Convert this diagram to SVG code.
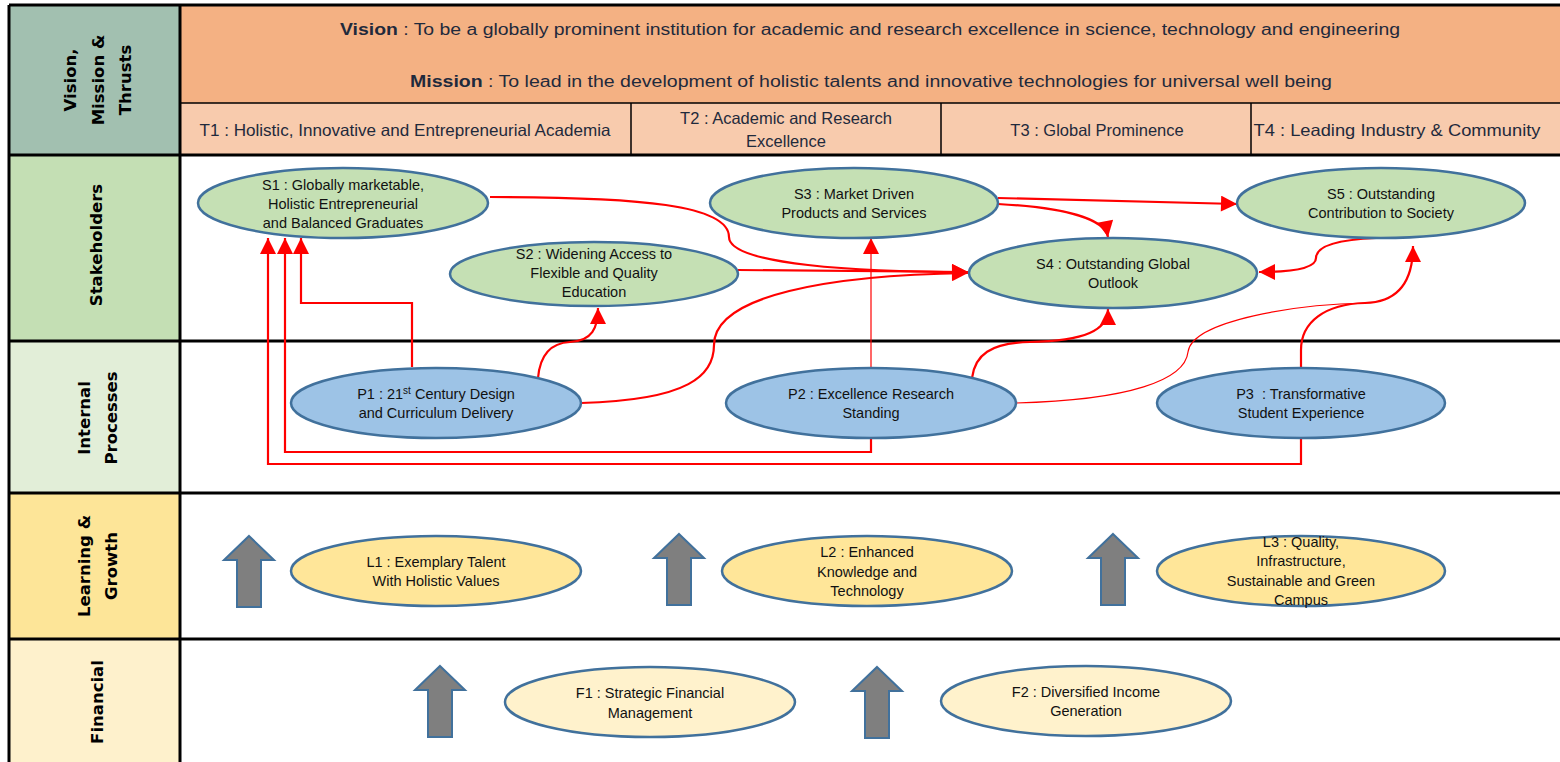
<svg xmlns="http://www.w3.org/2000/svg" width="1560" height="762" viewBox="0 0 1560 762">
<style>
.lbl{font-family:"DejaVu Sans",Verdana,sans-serif;font-weight:bold;font-size:16.5px;fill:#000;text-anchor:middle}
.hd{font-family:"Liberation Sans",Arial,sans-serif;font-size:16px;fill:#1f2a3c;text-anchor:middle}
.th{font-family:"Liberation Sans",Arial,sans-serif;font-size:16.5px;fill:#1f2a3c;text-anchor:middle}
.nt{font-family:"Liberation Sans",Arial,sans-serif;font-size:14.5px;fill:#111;text-anchor:middle}
.el{stroke:#41719c;stroke-width:2.5}
.s{fill:#c5e0b4}.p{fill:#9dc3e6}.l{fill:#ffe699}.f{fill:#fff2cc}
.grid{stroke:#000;stroke-width:3;fill:none}
.thin{stroke:#000;stroke-width:1.5;fill:none}
.cn{fill:none;stroke:#ff0000;stroke-width:2.2}
.cn1{fill:none;stroke:#ff0000;stroke-width:1.2}
.blk{fill:#7f7f7f;stroke:#41719c;stroke-width:2}
</style>
<defs>
<marker id="ah" viewBox="0 0 10 10" refX="10" refY="5" markerWidth="17" markerHeight="16" markerUnits="userSpaceOnUse" orient="auto">
<path d="M0,0 L10,5 L0,10 z" fill="#ff0000"/>
</marker>
<path id="blkArrow" class="blk" d="M0,0 L25,24 L12,24 L12,71 L-12,71 L-12,24 L-25,24 Z"/>
</defs>
<rect width="1560" height="762" fill="#fff"/>
<!-- left column fills -->
<rect x="9" y="5" width="171" height="150" fill="#a2c0b0"/>
<rect x="9" y="155" width="171" height="186" fill="#c4dfb4"/>
<rect x="9" y="341" width="171" height="152" fill="#e2eed8"/>
<rect x="9" y="493" width="171" height="146" fill="#fde598"/>
<rect x="9" y="639" width="171" height="123" fill="#fef1cc"/>
<!-- header fills -->
<rect x="180" y="5" width="1380" height="98" fill="#f4b183"/>
<rect x="180" y="103" width="1380" height="52" fill="#f8cbad"/>
<!-- grid lines -->
<g id="grid">
<path class="grid" d="M9,5 H1560 M9,5 V762 M180,5 V762 M9,155 H1560 M9,341 H1560 M9,493 H1560 M9,639 H1560"/>
<path class="thin" d="M180,103 H1560 M631,103 V155 M941,103 V155 M1251,103 V155"/>
</g>
<!-- left labels -->
<g id="lane-vmt"><text class="lbl" transform="translate(76,80) rotate(-90)">Vision,</text><text class="lbl" transform="translate(104,80) rotate(-90)">Mission &amp;</text><text class="lbl" transform="translate(131,80) rotate(-90)">Thrusts</text></g>
<g id="lane-stake"><text class="lbl" transform="translate(102,245) rotate(-90)">Stakeholders</text></g>
<g id="lane-int"><text class="lbl" transform="translate(90,418) rotate(-90)">Internal</text><text class="lbl" transform="translate(117,418) rotate(-90)">Processes</text></g>
<g id="lane-learn"><text class="lbl" transform="translate(90,566) rotate(-90)">Learning &amp;</text><text class="lbl" transform="translate(117,566) rotate(-90)">Growth</text></g>
<g id="lane-fin"><text class="lbl" transform="translate(103,702) rotate(-90)">Financial</text></g>
<!-- header texts -->
<g id="vision"><text class="hd" x="870" y="35" textLength="1060" lengthAdjust="spacingAndGlyphs"><tspan font-weight="bold">Vision</tspan> : To be a globally prominent institution for academic and research excellence in science, technology and engineering</text></g>
<g id="mission"><text class="hd" x="871" y="87" textLength="922" lengthAdjust="spacingAndGlyphs"><tspan font-weight="bold">Mission</tspan> : To lead in the development of holistic talents and innovative technologies for universal well being</text></g>
<g id="T1"><text class="th" x="405" y="136" textLength="411" lengthAdjust="spacingAndGlyphs">T1 : Holistic, Innovative and Entrepreneurial Academia</text></g>
<g id="T2"><text class="th" x="786" y="124">T2 : Academic and Research</text><text class="th" x="786" y="147">Excellence</text></g>
<g id="T3"><text class="th" x="1097" y="136">T3 : Global Prominence</text></g>
<g id="T4"><text class="th" x="1397" y="136" textLength="287" lengthAdjust="spacingAndGlyphs">T4 : Leading Industry &amp; Community</text></g>
<!-- block arrows -->
<g id="block-arrows">
<use href="#blkArrow" x="249" y="536"/>
<use href="#blkArrow" x="679" y="534"/>
<use href="#blkArrow" x="1113" y="534"/>
<use href="#blkArrow" x="440" y="666"/>
<use href="#blkArrow" x="877" y="667"/>
</g>
<!-- connectors -->
<g id="connectors">
<path class="cn" marker-end="url(#ah)" d="M412,367 V303 H301 V238"/>
<path class="cn" marker-end="url(#ah)" d="M871,438 V452 H285 V238"/>
<path class="cn" marker-end="url(#ah)" d="M1301,438 V464 H268 V238"/>
<path class="cn" marker-end="url(#ah)" d="M490,197 C640,197 729,205 729,237 C729,265 860,272 968,272"/>
<path class="cn" marker-end="url(#ah)" d="M738,270 L968,272"/>
<path class="cn" marker-end="url(#ah)" d="M581,403 C690,400 714,375 714,345 C714,295 830,275 968,273"/>
<path class="cn" marker-end="url(#ah)" d="M538,378 C540,355 550,343 570,342 C592,341 598,328 598,308"/>
<path class="cn1" marker-end="url(#ah)" d="M871,367 V238"/>
<path class="cn" marker-end="url(#ah)" d="M972,378 C975,355 990,343 1030,342 C1085,341 1108,330 1108,309"/>
<path class="cn1" d="M1016,403 C1130,400 1185,380 1188,352 C1192,320 1300,304 1365,303"/>
<path class="cn" marker-end="url(#ah)" d="M1301,367 V350 C1301,322 1325,304 1365,303 C1400,302 1413,280 1413,246"/>
<path class="cn" marker-end="url(#ah)" d="M998,198 L1237,204"/>
<path class="cn" marker-end="url(#ah)" d="M998,204 C1070,208 1105,220 1108,237"/>
<path class="cn" marker-end="url(#ah)" d="M1376,238 C1330,240 1316,248 1316,258 C1316,268 1295,272 1259,272"/>
</g>
<!-- nodes -->
<g id="S1"><ellipse class="el s" cx="343" cy="203" rx="145" ry="35"/><text class="nt" x="343" y="190">S1 : Globally marketable,</text><text class="nt" x="343" y="209">Holistic Entrepreneurial</text><text class="nt" x="343" y="228">and Balanced Graduates</text></g>
<g id="S2"><ellipse class="el s" cx="594" cy="274" rx="144" ry="32"/><text class="nt" x="594" y="259">S2 : Widening Access to</text><text class="nt" x="594" y="278">Flexible and Quality</text><text class="nt" x="594" y="297">Education</text></g>
<g id="S3"><ellipse class="el s" cx="854" cy="203" rx="144" ry="35"/><text class="nt" x="854" y="199">S3 : Market Driven</text><text class="nt" x="854" y="218">Products and Services</text></g>
<g id="S4"><ellipse class="el s" cx="1113" cy="273" rx="144" ry="35"/><text class="nt" x="1113" y="269">S4 : Outstanding Global</text><text class="nt" x="1113" y="288">Outlook</text></g>
<g id="S5"><ellipse class="el s" cx="1381" cy="203" rx="144" ry="35"/><text class="nt" x="1381" y="199">S5 : Outstanding</text><text class="nt" x="1381" y="218">Contribution to Society</text></g>
<g id="P1"><ellipse class="el p" cx="436" cy="403" rx="145" ry="35"/><text class="nt" x="436" y="399">P1 : 21<tspan font-size="10" dy="-5">st</tspan><tspan dy="5"> Century Design</tspan></text><text class="nt" x="436" y="418">and Curriculum Delivery</text></g>
<g id="P2"><ellipse class="el p" cx="871" cy="403" rx="145" ry="35"/><text class="nt" x="871" y="399">P2 : Excellence Research</text><text class="nt" x="871" y="418">Standing</text></g>
<g id="P3"><ellipse class="el p" cx="1301" cy="403" rx="144" ry="35"/><text class="nt" x="1301" y="399" xml:space="preserve">P3  : Transformative</text><text class="nt" x="1301" y="418">Student Experience</text></g>
<g id="L1"><ellipse class="el l" cx="436" cy="571" rx="145" ry="35"/><text class="nt" x="436" y="567">L1 : Exemplary Talent</text><text class="nt" x="436" y="586">With Holistic Values</text></g>
<g id="L2"><ellipse class="el l" cx="867" cy="571" rx="145" ry="35"/><text class="nt" x="867" y="557">L2 : Enhanced</text><text class="nt" x="867" y="577">Knowledge and</text><text class="nt" x="867" y="596">Technology</text></g>
<g id="L3"><ellipse class="el l" cx="1301" cy="571" rx="144" ry="35"/><text class="nt" x="1301" y="547">L3 : Quality,</text><text class="nt" x="1301" y="566">Infrastructure,</text><text class="nt" x="1301" y="586">Sustainable and Green</text><text class="nt" x="1301" y="605">Campus</text></g>
<g id="F1"><ellipse class="el f" cx="650" cy="702" rx="145" ry="35"/><text class="nt" x="650" y="698">F1 : Strategic Financial</text><text class="nt" x="650" y="718">Management</text></g>
<g id="F2"><ellipse class="el f" cx="1086" cy="701" rx="145" ry="35"/><text class="nt" x="1086" y="697">F2 : Diversified Income</text><text class="nt" x="1086" y="716">Generation</text></g>
</svg>
